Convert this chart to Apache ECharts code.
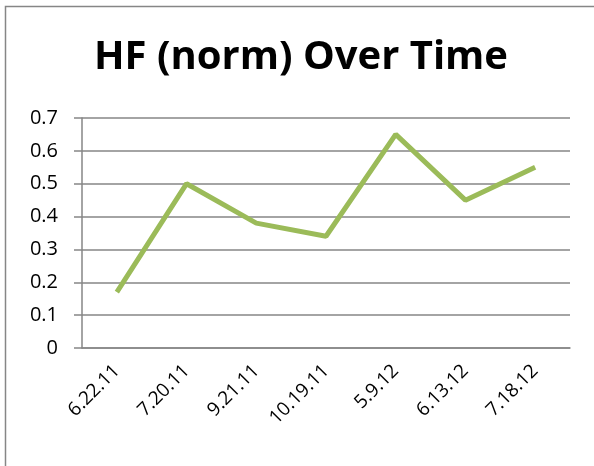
<!DOCTYPE html>
<html>
<head>
<meta charset="utf-8">
<script src="https://cdn.jsdelivr.net/npm/echarts@6/dist/echarts.min.js"></script>
<style>
  html, body { margin: 0; padding: 0; background: #fff; }
  #chart { width: 594px; height: 466px; }
</style>
</head>
<body>
<div id="chart"></div>
<script>
const dates = ["6.22.11", "7.20.11", "9.21.11", "10.19.11", "5.9.12", "6.13.12", "7.18.12"];
const hfNorm = [0.17, 0.5, 0.38, 0.34, 0.65, 0.45, 0.55];

const chart = echarts.init(document.getElementById("chart"));
const gray = "#868686";
const font = "'Open Sans', sans-serif";

chart.setOption({
  animation: false,
  backgroundColor: "#fff",
  graphic: [{
    type: "rect",
    shape: { x: 5.5, y: 6.5, width: 620, height: 500 },
    style: { fill: "none", stroke: gray, lineWidth: 1.5 },
  }],
  title: {
    text: "HF (norm) Over Time",
    left: 89,
    top: 33,
    textStyle: { fontFamily: font, fontSize: 40, fontWeight: "bold", color: "#000" },
  },
  grid: { left: 82, right: 24, top: 118, bottom: 118 },
  xAxis: {
    type: "category",
    data: dates,
    boundaryGap: true,
    axisLine: { lineStyle: { color: gray, width: 1.5 } },
    axisTick: { length: 8, lineStyle: { color: gray, width: 1.5 } },
    axisLabel: { rotate: 45, margin: 20, fontFamily: font, fontSize: 19, color: "#000" },
  },
  yAxis: {
    type: "value",
    min: 0,
    max: 0.7,
    interval: 0.1,
    axisLine: { show: true, lineStyle: { color: gray, width: 1.5 } },
    axisTick: { show: true, length: 8, lineStyle: { color: gray, width: 1.5 } },
    splitLine: { lineStyle: { color: gray, width: 1.5 } },
    axisLabel: {
      margin: 24, fontFamily: font, fontSize: 20, color: "#000",
      formatter: (v) => String(Math.round(v * 10) / 10),
    },
  },
  series: [{
    type: "line",
    data: hfNorm,
    showSymbol: false,
    lineStyle: { color: "#9BBB59", width: 5 },
  }],
});
</script>
</body>
</html>
